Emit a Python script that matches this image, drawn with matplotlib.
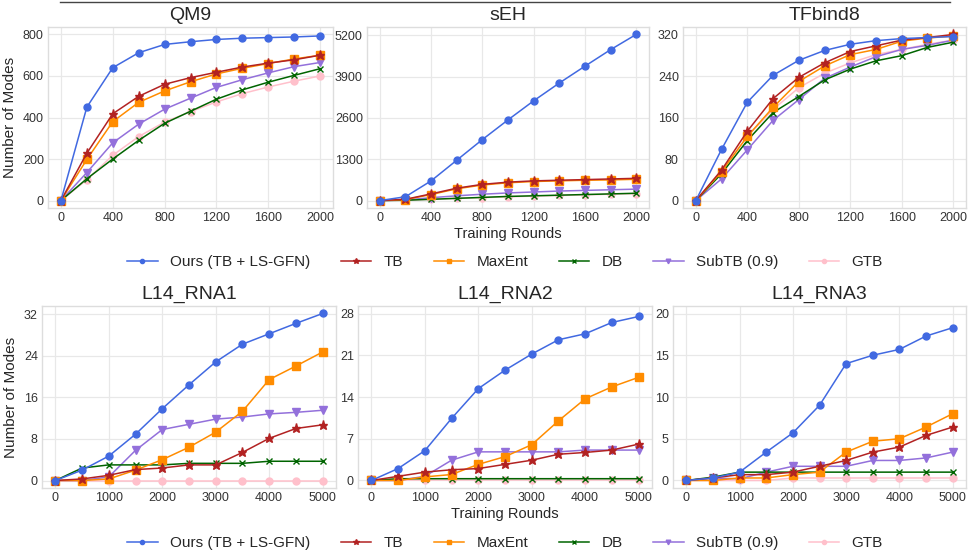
import numpy as np
import matplotlib
matplotlib.use("Agg")
import matplotlib.pyplot as plt
from matplotlib.lines import Line2D

# x values
rounds_top = [0, 200, 400, 600, 800, 1000, 1200, 1400, 1600, 1800, 2000]
rounds_bot = [0, 500, 1000, 1500, 2000, 2500, 3000, 3500, 4000, 4500, 5000]

methods = ["Ours (TB + LS-GFN)", "TB", "MaxEnt", "DB", "SubTB (0.9)", "GTB"]

# QM9
qm9_ours = [0, 450, 640, 712, 752, 765, 776, 782, 785, 788, 793]
qm9_tb = [0, 228, 418, 502, 560, 592, 618, 643, 662, 678, 700]
qm9_maxent = [0, 198, 380, 473, 528, 572, 610, 637, 660, 682, 700]
qm9_db = [0, 105, 200, 290, 372, 430, 488, 533, 570, 603, 635]
qm9_subtb = [0, 135, 278, 368, 440, 493, 545, 582, 615, 645, 665]
qm9_gtb = [0, 100, 218, 308, 378, 428, 475, 515, 547, 575, 600]

# sEH
seh_ours = [0, 120, 620, 1270, 1920, 2540, 3140, 3700, 4230, 4750, 5230]
seh_tb = [0, 40, 210, 390, 510, 580, 620, 640, 660, 680, 700]
seh_maxent = [0, 30, 190, 370, 490, 560, 600, 620, 640, 650, 670]
seh_db = [0, 10, 40, 70, 100, 130, 150, 170, 190, 210, 230]
seh_subtb = [0, 20, 90, 150, 200, 240, 270, 300, 320, 340, 360]
seh_gtb = [0, 10, 40, 70, 90, 120, 140, 160, 180, 200, 220]

# TFbind8
tf_ours = [0, 99, 190, 242, 271, 290, 302, 309, 313, 315, 317]
tf_tb = [0, 59, 134, 197, 238, 266, 288, 299, 310, 315, 321]
tf_maxent = [0, 56, 124, 180, 230, 260, 282, 292, 308, 314, 318]
tf_db = [0, 52, 116, 170, 201, 233, 254, 270, 280, 296, 306]
tf_subtb = [0, 42, 98, 155, 195, 236, 258, 278, 292, 300, 310]
tf_gtb = [0, 56, 124, 176, 218, 246, 266, 282, 292, 302, 310]

# L14_RNA1
rna1_ours = [0, 2.0, 4.7, 8.9, 13.8, 18.4, 22.8, 26.2, 28.2, 30.2, 32.1]
rna1_tb = [0, 0.3, 1.0, 2.1, 2.4, 3.0, 3.0, 5.4, 8.1, 10.0, 10.7]
rna1_maxent = [0, 0, 0.3, 2.0, 4.0, 6.4, 9.3, 13.3, 19.4, 22.0, 24.7]
rna1_db = [0, 2.4, 3.0, 3.0, 3.0, 3.3, 3.3, 3.3, 3.7, 3.7, 3.7]
rna1_subtb = [0, 0, 0.7, 5.8, 9.8, 10.8, 11.8, 12.2, 12.8, 13.1, 13.5]
rna1_gtb = [0, 0, 0, 0, 0, 0, 0, 0, 0, 0, 0]

# L14_RNA2
rna2_ours = [0, 2.0, 5.0, 10.4, 15.4, 18.5, 21.2, 23.6, 24.6, 26.5, 27.5]
rna2_tb = [0, 0.7, 1.4, 1.8, 2.0, 2.7, 3.4, 4.4, 4.7, 5.1, 6.1]
rna2_maxent = [0, 0, 0.6, 1.0, 2.7, 4.0, 6.0, 10.0, 13.7, 15.7, 17.3]
rna2_db = [0, 0.3, 0.3, 0.3, 0.3, 0.3, 0.3, 0.3, 0.3, 0.3, 0.3]
rna2_subtb = [0, 0, 0.7, 3.4, 4.8, 4.8, 4.8, 4.8, 5.1, 5.1, 5.1]
rna2_gtb = [0, 0, 0, 0, 0, 0, 0, 0, 0, 0, 0]

# L14_RNA3
rna3_ours = [0, 0.3, 1.0, 3.4, 5.7, 9.0, 14.0, 15.0, 15.7, 17.3, 18.3]
rna3_tb = [0, 0.3, 0.7, 0.7, 1.0, 1.7, 2.4, 3.4, 4.0, 5.4, 6.4]
rna3_maxent = [0, 0, 0.3, 0.3, 0.7, 1.0, 3.4, 4.7, 5.0, 6.4, 8.0]
rna3_db = [0, 0.4, 1.0, 1.0, 1.0, 1.0, 1.0, 1.0, 1.0, 1.0, 1.0]
rna3_subtb = [0, 0.3, 0.2, 1.0, 1.7, 1.7, 1.7, 2.4, 2.4, 2.7, 3.4]
rna3_gtb = [0, 0, 0, 0, 0.3, 0.3, 0.3, 0.3, 0.3, 0.3, 0.3]

panels = [
    ("QM9", rounds_top, [qm9_ours, qm9_tb, qm9_maxent, qm9_db, qm9_subtb, qm9_gtb],
     [0, 200, 400, 600, 800], [0, 400, 800, 1200, 1600, 2000]),
    ("sEH", rounds_top, [seh_ours, seh_tb, seh_maxent, seh_db, seh_subtb, seh_gtb],
     [0, 1300, 2600, 3900, 5200], [0, 400, 800, 1200, 1600, 2000]),
    ("TFbind8", rounds_top, [tf_ours, tf_tb, tf_maxent, tf_db, tf_subtb, tf_gtb],
     [0, 80, 160, 240, 320], [0, 400, 800, 1200, 1600, 2000]),
    ("L14_RNA1", rounds_bot, [rna1_ours, rna1_tb, rna1_maxent, rna1_db, rna1_subtb, rna1_gtb],
     [0, 8, 16, 24, 32], [0, 1000, 2000, 3000, 4000, 5000]),
    ("L14_RNA2", rounds_bot, [rna2_ours, rna2_tb, rna2_maxent, rna2_db, rna2_subtb, rna2_gtb],
     [0, 7, 14, 21, 28], [0, 1000, 2000, 3000, 4000, 5000]),
    ("L14_RNA3", rounds_bot, [rna3_ours, rna3_tb, rna3_maxent, rna3_db, rna3_subtb, rna3_gtb],
     [0, 5, 10, 15, 20], [0, 1000, 2000, 3000, 4000, 5000]),
]

colors = ["royalblue", "firebrick", "darkorange", "darkgreen", "mediumpurple", "pink"]
markers = ["o", "*", "s", "x", "v", "o"]
msizes = [5, 6.5, 5.5, 5, 5.5, 5]
zorders = [8, 7, 6, 5, 4, 3]

W, H = 968, 550
# axes boxes in pixels: left, top, right, bottom
boxes = [(48, 27, 333, 208), (367, 27, 649, 208), (683, 27, 966, 208),
         (42, 306, 336, 488), (358, 306, 652, 488), (673, 306, 966, 488)]

plt.rcParams['font.family'] = ['Liberation Sans', 'DejaVu Sans']
fig = plt.figure(figsize=(W / 100, H / 100), dpi=100, facecolor="white")

axes = []
for (title, xs, series, yticks, xticks), (l, t, r, b) in zip(panels, boxes):
    ax = fig.add_axes([l / W, 1 - b / H, (r - l) / W, (b - t) / H])
    ax.set_facecolor("white")
    for ys, c, m, ms, z, lab in zip(series, colors, markers, msizes, zorders, methods):
        ax.plot(xs, ys, color=c, marker=m, markersize=ms, linewidth=1.1,
                label=lab, zorder=z)
    ax.set_yticks(yticks)
    ax.set_xticks(xticks)
    ax.set_title(title, fontsize=14, color="#262626", pad=5)
    ax.grid(True, color="#e8e8e8", linewidth=0.9)
    ax.set_axisbelow(True)
    for sp in ax.spines.values():
        sp.set_color("#dddddd")
        sp.set_linewidth(1.0)
    ax.tick_params(axis="both", length=0, labelsize=9, colors="#333333", pad=3)
    ymax = yticks[-1]
    top = max(max(s) for s in series)
    ax.set_ylim(-0.045 * ymax, max(ymax, top) + 0.045 * ymax)
    axes.append(ax)

for i in (0, 3):
    axes[i].set_ylabel("Number of Modes", fontsize=11, color="#262626", labelpad=4)
for i in (1, 4):
    axes[i].set_xlabel("Training Rounds", fontsize=10.5, color="#262626", labelpad=2)

handles, labels = axes[0].get_legend_handles_labels()
for ycen in (262, 543):
    fig.legend(handles, labels, loc="center", bbox_to_anchor=(505 / W, 1 - ycen / H),
               ncol=6, frameon=False, fontsize=11, markerscale=0.6,
               handlelength=2.0, columnspacing=2.0, handletextpad=0.8,
               labelcolor="#262626")

fig.add_artist(Line2D([60 / W, 950 / W], [1 - 2 / H, 1 - 2 / H],
                      color="#444444", linewidth=1.0))

fig.savefig("out.png", dpi=100, facecolor="white")
